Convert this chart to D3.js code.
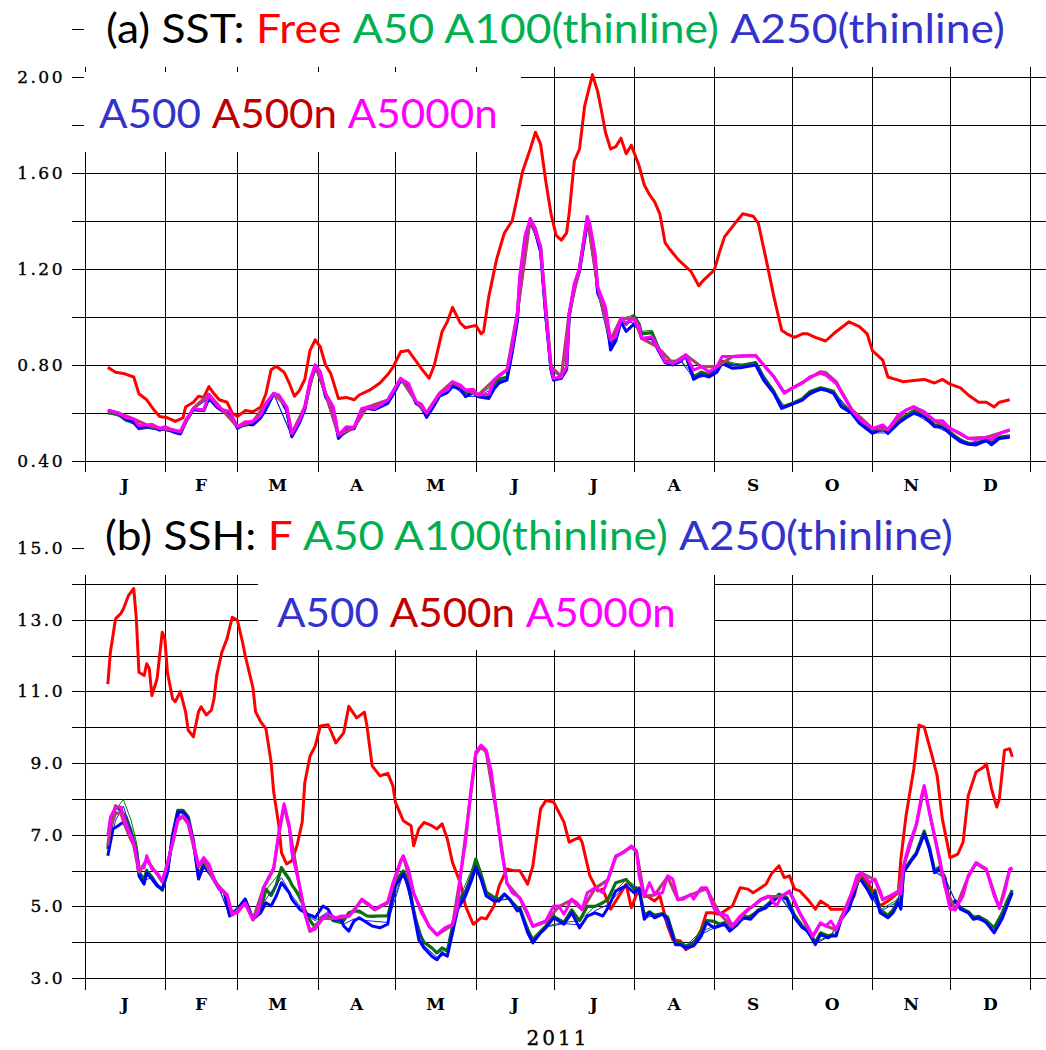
<!DOCTYPE html>
<html>
<head>
<meta charset="utf-8">
<script src="https://cdn.jsdelivr.net/npm/d3@7"></script>
<style>
body { margin: 0; background: #fff; }
svg { display: block; }
</style>
</head>
<body>
<svg id="chart" width="1046" height="1050"></svg>
<script>
// Values: [days after 1 Jan 2011, value]

// (a) SST
var sstFree = [[9,0.79],[12,0.77],[15,0.765],[19,0.75],[21,0.68],[24,0.655],[27,0.61],[29,0.585],[32,0.58],[34,0.57],[35,0.565],[38,0.58],[39,0.625],[42,0.645],[44,0.67],[46,0.665],[48,0.71],[50,0.68],[52,0.655],[55,0.645],[57,0.60],[59,0.585],[62,0.61],[65,0.605],[68,0.625],[70,0.68],[72,0.78],[74,0.795],[77,0.77],[79,0.725],[81,0.67],[83,0.695],[85,0.74],[87,0.86],[89,0.905],[91,0.875],[93,0.80],[95,0.765],[98,0.66],[101,0.665],[104,0.655],[106,0.675],[110,0.695],[114,0.725],[117,0.76],[119,0.79],[122,0.855],[125,0.86],[128,0.815],[130,0.785],[133,0.745],[135,0.80],[138,0.94],[140,0.98],[142,1.04],[145,0.975],[147,0.955],[151,0.965],[153,0.93],[154,0.94],[156,1.085],[159,1.24],[162,1.35],[165,1.40],[167,1.50],[169,1.605],[172,1.70],[174,1.77],[176,1.72],[178,1.565],[180,1.43],[182,1.34],[184,1.32],[186,1.35],[187,1.43],[189,1.65],[191,1.70],[193,1.88],[196,2.01],[198,1.94],[200,1.83],[201,1.77],[203,1.70],[205,1.71],[207,1.745],[209,1.68],[211,1.715],[214,1.63],[216,1.55],[218,1.51],[220,1.48],[222,1.43],[224,1.31],[226,1.28],[229,1.24],[232,1.21],[234,1.19],[237,1.13],[239,1.155],[243,1.195],[245,1.27],[247,1.335],[251,1.39],[254,1.43],[258,1.42],[260,1.39],[263,1.24],[266,1.085],[269,0.945],[271,0.93],[274,0.915],[277,0.93],[279,0.93],[282,0.915],[286,0.90],[289,0.93],[292,0.955],[295,0.98],[299,0.96],[302,0.93],[304,0.86],[308,0.82],[310,0.75],[313,0.74],[316,0.73],[320,0.735],[324,0.74],[328,0.725],[331,0.74],[334,0.72],[338,0.705],[341,0.675],[345,0.645],[348,0.645],[351,0.625],[353,0.645],[357,0.655]];

var sstA50 = [[9,0.60],[13,0.595],[16,0.57],[19,0.56],[21,0.535],[24,0.54],[26,0.54],[29,0.53],[31,0.535],[34,0.525],[37,0.515],[39,0.565],[42,0.615],[46,0.61],[48,0.665],[51,0.628],[53,0.61],[56,0.60],[59,0.54],[62,0.558],[65,0.556],[68,0.585],[70,0.625],[73,0.68],[75,0.672],[78,0.615],[80,0.505],[83,0.565],[85,0.62],[87,0.725],[89,0.79],[91,0.765],[93,0.675],[96,0.615],[98,0.50],[101,0.535],[104,0.535],[107,0.615],[109,0.62],[112,0.615],[115,0.635],[117,0.645],[119,0.68],[122,0.74],[125,0.715],[128,0.64],[130,0.63],[132,0.59],[134,0.62],[137,0.675],[140,0.69],[142,0.72],[145,0.71],[147,0.685],[150,0.69],[152,0.67],[156,0.67],[158,0.72],[160,0.74],[163,0.75],[165,0.86],[167,1.0],[168,1.16],[170,1.33],[172,1.40],[174,1.36],[176,1.28],[178,1.01],[180,0.785],[181,0.74],[184,0.748],[186,0.785],[187,1.01],[189,1.13],[191,1.20],[194,1.40],[195,1.37],[197,1.25],[198,1.11],[201,1.03],[203,0.88],[205,0.91],[207,0.99],[209,0.97],[212,1.005],[214,0.97],[215,0.93],[219,0.935],[221,0.88],[224,0.815],[227,0.81],[230,0.82],[232,0.84],[235,0.75],[238,0.77],[241,0.76],[244,0.78],[246,0.815],[250,0.80],[254,0.80],[259,0.81],[262,0.75],[266,0.69],[269,0.625],[273,0.64],[277,0.66],[280,0.69],[284,0.705],[286,0.70],[289,0.69],[292,0.635],[296,0.605],[299,0.565],[304,0.52],[308,0.54],[310,0.52],[314,0.565],[317,0.59],[320,0.61],[324,0.592],[328,0.55],[331,0.55],[334,0.52],[338,0.485],[341,0.475],[344,0.472],[348,0.49],[350,0.475],[353,0.50],[357,0.505]];

var sstA100 = [[9,0.60],[15,0.58],[21,0.54],[29,0.53],[37,0.52],[42,0.615],[48,0.665],[53,0.61],[59,0.54],[65,0.556],[73,0.68],[80,0.505],[85,0.62],[89,0.79],[93,0.675],[98,0.50],[104,0.535],[109,0.62],[117,0.645],[122,0.74],[128,0.64],[132,0.59],[137,0.675],[142,0.72],[147,0.685],[152,0.67],[158,0.72],[163,0.75],[167,1.0],[172,1.40],[176,1.28],[180,0.785],[184,0.748],[187,1.01],[191,1.20],[194,1.40],[198,1.11],[203,0.88],[207,0.99],[212,1.01],[215,0.94],[219,0.945],[224,0.82],[230,0.82],[235,0.76],[241,0.765],[246,0.82],[254,0.80],[259,0.81],[266,0.69],[270,0.63],[277,0.66],[284,0.705],[289,0.69],[296,0.605],[304,0.52],[310,0.525],[317,0.59],[320,0.61],[328,0.55],[334,0.52],[341,0.475],[348,0.49],[353,0.50],[357,0.505]];

var sstA250 = [[9,0.61],[15,0.58],[21,0.54],[29,0.53],[37,0.515],[42,0.615],[48,0.662],[53,0.61],[59,0.537],[65,0.552],[73,0.68],[80,0.502],[85,0.616],[89,0.787],[93,0.67],[98,0.496],[104,0.535],[109,0.62],[117,0.642],[122,0.737],[128,0.64],[132,0.585],[137,0.672],[142,0.714],[147,0.67],[152,0.668],[158,0.705],[163,0.74],[167,0.99],[172,1.40],[176,1.275],[180,0.782],[184,0.746],[187,1.0],[191,1.195],[194,1.395],[198,1.105],[203,0.87],[207,0.985],[212,0.975],[215,0.915],[219,0.915],[224,0.812],[230,0.818],[235,0.745],[241,0.755],[246,0.81],[254,0.795],[259,0.805],[266,0.685],[270,0.622],[277,0.656],[284,0.70],[289,0.685],[296,0.60],[304,0.517],[310,0.517],[317,0.582],[320,0.60],[328,0.545],[334,0.515],[341,0.472],[348,0.487],[353,0.496],[357,0.50]];

var sstA500 = [[9,0.612],[13,0.60],[16,0.575],[19,0.564],[21,0.54],[24,0.545],[26,0.545],[29,0.529],[31,0.535],[34,0.522],[37,0.5125],[39,0.56],[42,0.615],[46,0.61],[48,0.661],[51,0.625],[53,0.61],[56,0.60],[59,0.536],[62,0.555],[65,0.55],[68,0.58],[70,0.615],[73,0.68],[75,0.67],[78,0.61],[80,0.501],[83,0.56],[85,0.615],[87,0.72],[89,0.786],[91,0.76],[93,0.668],[96,0.61],[98,0.494],[101,0.53],[104,0.535],[107,0.615],[109,0.62],[112,0.615],[115,0.63],[117,0.64],[119,0.675],[122,0.735],[125,0.71],[128,0.64],[130,0.625],[132,0.582],[134,0.615],[137,0.67],[140,0.685],[142,0.71],[145,0.70],[147,0.668],[150,0.685],[152,0.668],[156,0.66],[158,0.70],[160,0.726],[163,0.737],[165,0.85],[167,0.98],[168,1.14],[170,1.32],[172,1.397],[174,1.35],[176,1.27],[178,1.00],[180,0.78],[181,0.737],[184,0.745],[186,0.78],[187,1.0],[189,1.12],[191,1.19],[194,1.39],[195,1.36],[197,1.24],[198,1.10],[201,1.02],[203,0.8625],[205,0.90],[207,0.98],[209,0.94],[212,0.97],[214,0.95],[215,0.911],[219,0.91],[221,0.87],[224,0.81],[227,0.80],[230,0.815],[232,0.84],[235,0.74],[238,0.76],[241,0.75],[244,0.77],[246,0.807],[250,0.786],[254,0.79],[259,0.80],[262,0.7375],[266,0.682],[269,0.619],[273,0.636],[277,0.654],[280,0.682],[284,0.699],[286,0.695],[289,0.682],[292,0.626],[296,0.599],[299,0.557],[304,0.515],[308,0.536],[310,0.515],[314,0.557],[317,0.58],[320,0.599],[324,0.585],[328,0.543],[331,0.543],[334,0.5125],[338,0.48],[341,0.47],[344,0.467],[348,0.485],[350,0.467],[353,0.494],[357,0.499]];

var sstA500n = [[9,0.61],[13,0.60],[19,0.575],[24,0.55],[29,0.536],[34,0.53],[37,0.522],[42,0.62],[48,0.678],[53,0.615],[59,0.543],[65,0.564],[70,0.64],[73,0.682],[78,0.626],[80,0.515],[85,0.626],[89,0.80],[93,0.682],[98,0.508],[104,0.54],[109,0.624],[117,0.654],[122,0.744],[128,0.647],[132,0.60],[137,0.682],[142,0.73],[147,0.696],[152,0.675],[158,0.737],[163,0.779],[167,1.015],[172,1.41],[176,1.293],[180,0.793],[184,0.751],[187,1.015],[191,1.203],[194,1.418],[198,1.126],[203,0.904],[207,0.994],[212,0.994],[215,0.911],[221,0.876],[227,0.807],[232,0.842],[238,0.793],[244,0.793],[250,0.835],[259,0.839],[266,0.751],[270,0.685],[277,0.728],[284,0.772],[286,0.768],[290,0.73],[296,0.615],[304,0.536],[310,0.532],[317,0.612],[320,0.626],[328,0.568],[334,0.536],[341,0.494],[348,0.499],[353,0.515],[357,0.529]];

var sstA5000n = [[9,0.61],[13,0.60],[16,0.58],[19,0.575],[21,0.547],[24,0.55],[26,0.553],[29,0.536],[31,0.543],[34,0.53],[37,0.522],[39,0.57],[42,0.62],[46,0.612],[48,0.678],[51,0.633],[53,0.615],[56,0.606],[59,0.543],[62,0.564],[65,0.564],[68,0.592],[70,0.64],[73,0.682],[75,0.675],[78,0.626],[80,0.515],[83,0.571],[85,0.626],[87,0.737],[89,0.80],[91,0.772],[93,0.682],[96,0.626],[98,0.508],[101,0.543],[104,0.54],[107,0.619],[109,0.624],[112,0.619],[115,0.64],[117,0.654],[119,0.689],[122,0.744],[125,0.724],[128,0.647],[130,0.637],[132,0.60],[134,0.633],[137,0.682],[140,0.696],[142,0.73],[145,0.717],[147,0.696],[150,0.699],[152,0.675],[156,0.678],[158,0.737],[160,0.758],[163,0.779],[165,0.876],[167,1.015],[168,1.175],[170,1.34],[172,1.41],[174,1.37],[176,1.29],[178,1.015],[180,0.793],[181,0.744],[184,0.751],[186,0.793],[187,1.015],[189,1.14],[191,1.203],[194,1.418],[195,1.39],[197,1.265],[198,1.126],[201,1.043],[203,0.904],[205,0.918],[207,0.994],[209,0.974],[212,0.994],[214,0.96],[215,0.911],[219,0.918],[221,0.876],[224,0.814],[227,0.807],[230,0.821],[232,0.842],[235,0.779],[238,0.793],[241,0.772],[244,0.793],[246,0.835],[250,0.835],[254,0.839],[259,0.839],[262,0.80],[266,0.751],[270,0.682],[273,0.703],[277,0.724],[280,0.751],[284,0.765],[286,0.758],[290,0.724],[293,0.668],[296,0.612],[299,0.574],[304,0.536],[308,0.55],[310,0.532],[314,0.592],[317,0.612],[320,0.626],[324,0.606],[328,0.568],[331,0.568],[334,0.536],[338,0.515],[341,0.494],[344,0.49],[348,0.499],[350,0.49],[353,0.515],[357,0.529]];

// (b) SSH
var sshFree = [[9,11.2],[10,12.1],[12,13.03],[14,13.17],[15,13.3],[17,13.68],[19,13.87],[20,13.03],[21,11.53],[23,11.44],[24,11.77],[25,11.63],[26,10.88],[28,11.35],[30,12.65],[31,12.47],[32,11.53],[34,10.79],[35,10.71],[37,10.99],[39,10.43],[40,9.92],[42,9.73],[44,10.43],[45,10.57],[47,10.34],[49,10.48],[50,10.8],[51,11.44],[53,12.09],[55,12.47],[57,13.07],[59,12.98],[61,12.37],[62,12.0],[65,11.1],[66,10.43],[68,10.15],[70,9.96],[72,9.03],[73,8.19],[75,7.25],[76,6.5],[78,6.18],[80,6.27],[82,6.69],[84,7.35],[85,8.45],[87,9.19],[89,9.47],[91,10.03],[94,10.07],[97,9.56],[100,9.84],[102,10.58],[105,10.26],[108,10.42],[109,10.03],[111,8.92],[114,8.64],[117,8.71],[119,8.36],[120,7.9],[123,7.39],[126,7.25],[127,6.69],[129,7.16],[131,7.34],[134,7.25],[136,7.16],[138,7.3],[140,6.88],[142,6.22],[145,5.66],[147,5.01],[150,4.5],[153,4.68],[155,4.65],[158,5.01],[160,5.57],[163,6.04],[166,5.99],[168,5.99],[171,5.62],[173,6.13],[176,7.72],[178,7.95],[181,7.91],[185,7.35],[187,6.79],[191,6.93],[192,6.79],[195,5.85],[198,5.43],[200,5.48],[203,4.92],[207,5.38],[209,5.62],[211,4.96],[214,5.52],[217,5.29],[220,5.15],[222,5.29],[225,4.45],[227,4.07],[230,4.03],[232,3.79],[235,3.93],[238,4.36],[240,4.82],[242,4.82],[245,4.78],[248,4.92],[250,5.01],[253,5.52],[256,5.48],[258,5.38],[261,5.52],[263,5.62],[265,5.9],[268,6.13],[270,5.8],[272,5.85],[274,5.48],[276,5.43],[279,5.2],[282,4.92],[284,5.15],[287,5.01],[288,4.92],[292,4.92],[294,4.92],[297,5.29],[299,5.9],[303,5.57],[307,5.01],[311,5.2],[314,5.38],[315,6.32],[317,7.53],[320,8.84],[322,10.06],[324,10.0],[327,9.21],[329,8.65],[331,7.44],[334,6.36],[337,6.46],[339,6.79],[341,8.09],[344,8.75],[347,8.89],[348,8.98],[350,8.28],[352,7.77],[353,8.0],[355,9.36],[357,9.4],[358,9.17]];

var sshA50 = [[9,6.6],[11,7.5],[12,7.8],[14,7.67],[16,7.5],[18,7.1],[20,6.6],[21,5.95],[23,5.75],[24,6.0],[26,5.82],[28,5.6],[30,5.45],[32,5.95],[34,7.0],[36,7.68],[38,7.68],[40,7.5],[42,6.85],[44,5.85],[46,6.2],[49,5.9],[52,5.5],[54,5.4],[56,4.75],[59,4.92],[62,5.2],[65,4.64],[68,4.9],[70,5.48],[72,5.3],[74,5.6],[76,6.08],[79,5.76],[80,5.6],[83,5.29],[86,4.73],[88,4.5],[89,4.45],[92,4.7],[94,4.75],[96,4.6],[99,4.55],[100,4.6],[102,4.82],[104,4.87],[106,4.87],[109,4.73],[111,4.72],[114,4.73],[117,4.73],[118,5.0],[120,5.7],[123,5.99],[125,5.7],[127,4.9],[129,4.26],[131,4.0],[134,3.84],[136,3.7],[138,3.84],[140,3.75],[142,4.45],[144,5.1],[147,5.4],[149,5.8],[151,6.32],[153,5.9],[155,5.4],[158,5.25],[160,5.2],[162,5.34],[164,5.2],[167,4.95],[168,4.95],[171,4.35],[173,4.07],[176,4.3],[178,4.45],[181,4.72],[185,4.55],[188,4.9],[191,4.6],[194,5.0],[197,5.0],[200,5.1],[202,5.2],[205,5.66],[209,5.75],[212,5.5],[214,5.5],[216,4.75],[218,4.85],[220,4.75],[223,4.8],[225,4.7],[228,4.0],[230,3.98],[232,3.89],[235,3.95],[238,4.3],[240,4.6],[243,4.58],[245,4.5],[247,4.55],[249,4.36],[252,4.55],[254,4.72],[257,4.7],[260,4.9],[263,5.0],[265,5.15],[268,5.34],[271,5.25],[274,4.75],[277,4.45],[279,4.36],[282,4.0],[284,4.26],[287,4.17],[288,4.2],[290,4.2],[292,4.7],[295,5.0],[297,5.45],[299,5.85],[302,5.55],[304,5.3],[305,5.45],[307,4.9],[310,4.75],[312,4.9],[314,5.2],[315,5.0],[316,6.0],[319,6.3],[321,6.5],[324,7.1],[326,6.65],[328,6.0],[330,6.1],[332,5.8],[334,5.05],[336,5.15],[338,4.95],[341,4.85],[343,4.7],[345,4.72],[348,4.6],[351,4.4],[354,4.8],[356,5.15],[358,5.45]];

var sshA100 = [[9,6.8],[12,7.7],[15,7.98],[18,7.4],[20,6.8],[22,5.8],[26,5.85],[30,5.45],[34,7.0],[37,7.7],[40,7.5],[44,5.9],[46,6.2],[52,5.5],[56,4.75],[62,5.2],[65,4.65],[70,5.45],[76,6.0],[80,5.6],[86,4.75],[89,4.45],[94,4.75],[100,4.6],[104,4.85],[109,4.75],[117,4.75],[123,5.95],[127,4.9],[131,4.0],[136,3.72],[140,3.78],[144,5.1],[151,6.3],[155,5.4],[160,5.2],[164,5.2],[168,4.95],[173,4.1],[178,4.45],[185,4.55],[191,4.6],[197,5.0],[202,5.2],[209,5.75],[214,5.5],[216,4.75],[223,4.8],[228,4.0],[232,3.9],[238,4.3],[245,4.5],[252,4.55],[260,4.9],[268,5.34],[274,4.75],[282,4.0],[288,4.2],[295,5.0],[299,5.85],[304,5.3],[307,4.9],[314,5.2],[316,6.0],[321,6.5],[324,7.1],[328,6.0],[332,5.8],[336,5.15],[343,4.7],[348,4.6],[351,4.4],[356,5.15],[358,5.45]];

var sshA250 = [[9,6.5],[12,7.4],[15,7.8],[18,7.1],[20,6.6],[22,5.7],[26,5.8],[30,5.48],[34,6.97],[37,7.63],[40,7.44],[44,5.8],[46,6.15],[52,5.48],[56,4.73],[62,5.2],[65,4.64],[70,5.2],[76,5.8],[80,5.3],[86,4.75],[89,4.6],[94,4.85],[100,4.5],[104,4.65],[109,4.6],[117,4.55],[123,5.92],[127,4.85],[131,3.9],[136,3.58],[140,3.66],[144,4.98],[151,6.15],[155,5.32],[160,5.17],[164,5.2],[168,4.92],[173,4.02],[178,4.42],[185,4.52],[191,4.48],[197,4.88],[202,5.05],[209,5.62],[214,5.48],[216,4.68],[223,4.78],[228,3.95],[232,3.86],[238,4.22],[245,4.47],[252,4.52],[260,4.88],[268,5.3],[274,4.7],[282,3.96],[288,4.18],[295,4.95],[299,5.82],[304,5.24],[307,4.85],[314,5.14],[316,5.96],[321,6.48],[324,7.05],[328,5.96],[332,5.78],[336,5.15],[343,4.66],[348,4.56],[351,4.3],[356,5.05],[358,5.4]];

var sshA500 = [[9,6.41],[11,7.16],[13,7.25],[15,7.35],[16,7.21],[18,6.97],[20,6.5],[21,5.85],[23,5.62],[24,5.94],[26,5.76],[28,5.57],[30,5.48],[32,5.94],[34,6.97],[36,7.63],[38,7.63],[40,7.44],[42,6.79],[44,5.76],[46,6.13],[49,5.85],[52,5.48],[54,5.38],[56,4.73],[59,4.92],[62,5.2],[65,4.64],[68,4.82],[70,5.1],[72,5.01],[74,5.29],[76,5.66],[79,5.38],[80,5.2],[83,4.92],[86,4.78],[88,4.73],[89,4.68],[92,5.01],[94,4.92],[96,4.64],[99,4.64],[100,4.45],[102,4.31],[104,4.59],[106,4.68],[109,4.54],[111,4.45],[114,4.4],[117,4.5],[118,4.92],[120,5.57],[123,5.9],[125,5.57],[127,4.82],[129,4.07],[131,3.84],[134,3.61],[136,3.51],[138,3.7],[140,3.61],[142,4.26],[144,4.92],[147,5.29],[149,5.66],[151,6.08],[153,5.76],[155,5.29],[158,5.15],[160,5.15],[162,5.34],[164,5.2],[167,4.87],[168,4.92],[171,4.26],[173,3.98],[176,4.26],[178,4.4],[181,4.68],[185,4.5],[188,4.82],[191,4.4],[194,4.73],[197,4.82],[200,4.73],[202,4.96],[205,5.43],[209,5.57],[212,5.38],[214,5.48],[216,4.64],[218,4.82],[220,4.68],[223,4.78],[225,4.64],[228,3.93],[230,3.93],[232,3.84],[235,3.89],[238,4.17],[240,4.54],[243,4.4],[245,4.45],[247,4.5],[249,4.31],[252,4.5],[254,4.68],[257,4.64],[260,4.87],[263,4.96],[265,5.1],[268,5.29],[271,5.2],[274,4.68],[277,4.4],[279,4.31],[282,3.93],[284,4.21],[287,4.12],[288,4.17],[290,4.17],[292,4.64],[295,4.92],[297,5.38],[299,5.8],[302,5.48],[304,5.2],[305,5.38],[307,4.82],[310,4.68],[312,4.82],[314,5.1],[315,4.92],[316,5.94],[319,6.27],[321,6.46],[324,7.02],[326,6.6],[328,5.94],[330,6.04],[332,5.76],[334,5.01],[336,5.15],[338,4.92],[341,4.82],[343,4.64],[345,4.68],[348,4.54],[351,4.26],[354,4.64],[356,5.01],[358,5.38]];

var sshA500n = [[9,6.7],[10,7.2],[12,7.6],[14,7.6],[17,7.0],[19,6.7],[21,5.95],[24,6.3],[28,5.9],[30,5.68],[34,6.75],[36,7.4],[38,7.5],[40,7.3],[44,6.1],[46,6.3],[50,5.72],[55,5.3],[57,4.76],[62,5.08],[65,4.62],[69,5.5],[73,6.05],[75,7.0],[77,7.8],[79,7.2],[83,5.55],[85,4.8],[87,4.3],[92,4.66],[97,4.66],[102,4.72],[107,5.18],[112,4.9],[117,5.1],[122,6.25],[123,6.4],[127,5.36],[133,4.43],[136,4.2],[142,4.48],[145,5.8],[149,8.1],[151,9.25],[153,9.45],[155,9.3],[159,7.6],[163,5.64],[168,5.22],[173,4.44],[178,4.57],[183,4.99],[188,5.18],[192,4.9],[197,5.5],[202,5.74],[205,6.38],[211,6.66],[213,6.52],[216,5.27],[220,5.32],[225,5.82],[229,5.18],[234,5.32],[240,5.5],[245,4.8],[250,4.43],[256,4.9],[261,5.18],[264,5.27],[269,5.27],[272,5.41],[276,4.8],[281,4.15],[284,4.52],[290,4.34],[296,5.36],[300,5.92],[305,5.74],[308,5.18],[314,5.41],[316,6.1],[321,7.28],[324,8.33],[328,6.95],[332,5.55],[336,4.9],[341,5.83],[344,6.2],[348,6.02],[353,4.94],[357,6.02],[358,6.06]];

var sshA5000n = [[9,6.97],[10,7.49],[12,7.77],[14,7.77],[15,7.53],[17,7.11],[19,6.79],[21,6.04],[23,6.08],[24,6.41],[26,6.04],[28,5.94],[30,5.71],[32,6.18],[34,6.79],[36,7.44],[38,7.53],[40,7.35],[42,6.79],[44,6.13],[46,6.36],[48,6.18],[50,5.76],[52,5.48],[55,5.34],[57,4.78],[59,4.82],[62,5.1],[65,4.64],[67,4.82],[69,5.52],[71,5.8],[73,6.08],[75,7.07],[77,7.86],[79,7.25],[80,6.5],[83,5.57],[85,4.82],[87,4.31],[89,4.36],[92,4.68],[94,4.78],[97,4.68],[99,4.73],[102,4.73],[104,4.87],[107,5.2],[109,5.1],[112,4.92],[114,5.01],[117,5.12],[119,5.66],[122,6.27],[123,6.41],[125,6.04],[127,5.38],[130,4.82],[133,4.45],[136,4.21],[139,4.4],[142,4.5],[144,5.01],[145,5.85],[147,6.79],[149,8.19],[151,9.31],[153,9.5],[155,9.36],[157,8.75],[159,7.63],[161,6.5],[163,5.66],[165,5.38],[168,5.24],[171,4.82],[173,4.45],[176,4.54],[178,4.59],[181,5.01],[183,5.01],[185,4.78],[188,5.2],[190,5.1],[192,4.92],[194,5.38],[197,5.52],[200,5.38],[202,5.76],[205,6.41],[208,6.5],[211,6.69],[213,6.55],[214,5.85],[216,5.29],[218,5.66],[220,5.34],[223,5.38],[225,5.85],[227,5.76],[229,5.2],[231,5.2],[234,5.34],[235,5.2],[238,5.52],[240,5.52],[243,4.92],[245,4.82],[248,4.73],[250,4.45],[253,4.73],[256,4.92],[258,5.01],[261,5.2],[264,5.29],[267,5.01],[269,5.29],[272,5.43],[274,5.15],[276,4.82],[279,4.45],[281,4.17],[284,4.54],[286,4.45],[288,4.59],[290,4.36],[293,4.78],[296,5.38],[298,5.85],[300,5.94],[303,5.66],[305,5.76],[307,5.43],[308,5.2],[311,5.29],[314,5.43],[315,5.34],[316,6.13],[318,6.69],[321,7.3],[323,8.09],[324,8.37],[326,7.63],[328,6.97],[330,6.32],[332,5.57],[334,4.92],[336,4.92],[339,5.29],[341,5.85],[344,6.22],[346,6.13],[348,6.04],[351,5.29],[353,4.96],[355,5.38],[357,6.04],[358,6.08]];

var monthLabels = ["J","F","M","A","M","J","J","A","S","O","N","D"];
var sstTickLabels = [0.4, 0.8, 1.2, 1.6, 2.0];
var sshTickLabels = [3, 5, 7, 9, 11, 13, 15];
var yearLabel = "2011";

var svg = d3.select("#chart");
var x = d3.scaleTime()
    .domain([new Date(2011, 0, 1), new Date(2012, 0, 7)])
    .range([84.5, 1046]);

function day(d) { return new Date(2011, 0, 1 + d[0]); }

// series style: colour, width (drawn in this order)
function seriesList(free, a50, a100, a250, a500, a500n, a5000n) {
    return [
        { data: free, color: "#ff0000", w: 3 },
        { data: a50, color: "#0b6b12", w: 3.2 },
        { data: a100, color: "#0a7a10", w: 1 },
        { data: a250, color: "#1a1aff", w: 1 },
        { data: a500, color: "#0000ff", w: 3 },
        { data: a500n, color: "#b0406e", w: 3.2 },
        { data: a5000n, color: "#ff00ff", w: 3 }
    ];
}

var panels = [
    {
        y: d3.scaleLinear().domain([0.4, 2.2]).range([461, 29]),
        gridStep: 0.2, ticks: sstTickLabels, fmt: d3.format(".2f"),
        bottom: 472, monthY: 491,
        series: seriesList(sstFree, sstA50, sstA100, sstA250, sstA500, sstA500n, sstA5000n),
        boxes: [[84, 0, 962, 67], [84, 72, 437, 80]],
        titles: [
            { x: 106, y: 43, w: 896, parts: [["(a) SST: ", "#000"], ["Free ", "#ff0000"], ["A50 A100(thinline) ", "#00b050"], ["A250(thinline)", "#3333cc"]] },
            { x: 99, y: 128, w: 396, parts: [["A500 ", "#3333cc"], ["A500n ", "#c00000"], ["A5000n", "#ff00ff"]] }
        ]
    },
    {
        y: d3.scaleLinear().domain([3, 15]).range([978, 548]),
        gridStep: 1, ticks: sshTickLabels, fmt: d3.format(".1f"),
        bottom: 990, monthY: 1010,
        series: seriesList(sshFree, sshA50, sshA100, sshA250, sshA500, sshA500n, sshA5000n),
        boxes: [[84, 500, 962, 75], [258, 575, 456, 75]],
        titles: [
            { x: 105, y: 550, w: 845, parts: [["(b) SSH: ", "#000"], ["F ", "#ff0000"], ["A50 A100(thinline) ", "#00b050"], ["A250(thinline)", "#3333cc"]] },
            { x: 277, y: 627, w: 396, parts: [["A500 ", "#3333cc"], ["A500n ", "#c00000"], ["A5000n", "#ff00ff"]] }
        ]
    }
];

panels.forEach(function (p) {
    var y = p.y;
    var g = svg.append("g");
    var top = y.range()[1];
    var gridVals = d3.range(y.domain()[0], y.domain()[1] + p.gridStep / 2, p.gridStep);

    // horizontal grid, also the left tick marks
    g.append("g")
        .attr("transform", "translate(72,0)")
        .call(d3.axisLeft(y).tickValues(gridVals).tickSize(-(1046 - 72)).tickFormat(""))
        .call(function (s) { s.select(".domain").remove(); })
        .selectAll("line").attr("stroke", "#000").attr("shape-rendering", "crispEdges");

    // vertical grid at month boundaries (first one is the left axis)
    g.append("g")
        .attr("transform", "translate(0," + p.bottom + ")")
        .call(d3.axisBottom(x).ticks(d3.timeMonth.every(1)).tickSize(-(p.bottom - top)).tickFormat(""))
        .call(function (s) { s.select(".domain").remove(); })
        .selectAll("line").attr("stroke", "#000").attr("shape-rendering", "crispEdges");

    // y labels
    var yl = g.append("g")
        .attr("transform", "translate(72,0)")
        .call(d3.axisLeft(y).tickValues(p.ticks).tickSize(0).tickPadding(7).tickFormat(p.fmt));
    yl.select(".domain").remove();
    yl.selectAll("text")
        .attr("font-family", "'DejaVu Serif', serif")
        .attr("font-size", 17)
        .attr("letter-spacing", 2.5)
        .attr("fill", "#000")
        .attr("stroke", "#000")
        .attr("stroke-width", 0.35);

    // month labels centred in each month
    var mids = d3.range(12).map(function (m) {
        return new Date((new Date(2011, m, 1).getTime() + new Date(2011, m + 1, 1).getTime()) / 2);
    });
    g.selectAll(".mlab").data(mids).enter().append("text")
        .attr("x", function (d) { return x(d); })
        .attr("y", p.monthY)
        .attr("text-anchor", "middle")
        .attr("font-family", "'DejaVu Serif', serif")
        .attr("font-weight", "bold")
        .attr("font-size", 17)
        .text(function (d, i) { return monthLabels[i]; });

    // series
    var line = d3.line()
        .x(function (d) { return x(day(d)); })
        .y(function (d) { return y(d[1]); });
    p.series.forEach(function (s) {
        g.append("path")
            .attr("d", line(s.data))
            .attr("fill", "none")
            .attr("stroke", s.color)
            .attr("stroke-width", s.w)
            .attr("stroke-linejoin", "round");
    });

    // white boxes behind the titles
    p.boxes.forEach(function (b) {
        g.append("rect")
            .attr("x", b[0]).attr("y", b[1])
            .attr("width", b[2]).attr("height", b[3])
            .attr("fill", "#fff");
    });

    p.titles.forEach(function (t) {
        var txt = g.append("text")
            .attr("y", t.y)
            .attr("font-family", "Lato, 'Open Sans', sans-serif")
            .attr("font-size", 40);
        t.parts.forEach(function (pt) {
            txt.append("tspan").attr("fill", pt[1]).text(pt[0]);
        });
        var w = txt.node().getComputedTextLength();
        txt.attr("transform", "translate(" + t.x + ",0) scale(" + (t.w / w) + ",1)");
    });
});

svg.append("text")
    .attr("x", 558)
    .attr("y", 1045)
    .attr("text-anchor", "middle")
    .attr("font-family", "'DejaVu Serif', serif")
    .attr("font-size", 20)
    .attr("letter-spacing", 3)
    .attr("stroke", "#000")
    .attr("stroke-width", 0.35)
    .text(yearLabel);
</script>
</body>
</html>
